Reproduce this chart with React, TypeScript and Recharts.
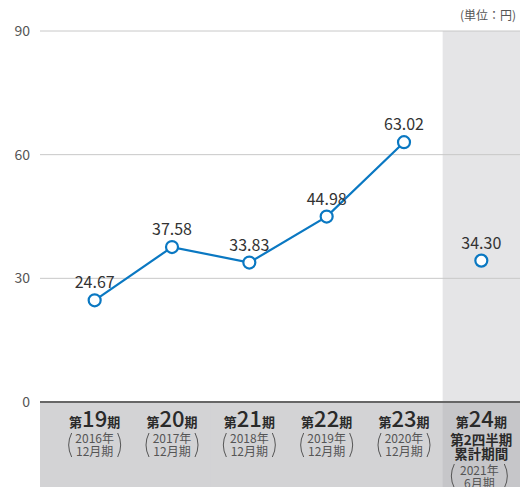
import React from "react"
import {
  ComposedChart,
  Line,
  XAxis,
  YAxis,
  CartesianGrid,
  ReferenceArea,
  LabelList,
} from "recharts"

const periods = ["19", "20", "21", "22", "23", "24"]
const years = ["2016年", "2017年", "2018年", "2019年", "2020年", "2021年"]
const months = ["12月期", "12月期", "12月期", "12月期", "12月期", "6月期"]
const annualEps = [24.67, 37.58, 33.83, 44.98, 63.02, null]
const halfEps = [null, null, null, null, null, 34.3]
const lastSubLines = ["第2四半期", "累計期間"]
const yTicks = [0, 30, 60, 90]

const data = periods.map((p, i) => ({
  period: p,
  annual: annualEps[i],
  half: halfEps[i],
}))

const W = 520
const H = 487
const PAD_LEFT = 16
const Y_AXIS_W = 40
const AXIS_H = 85
const BAND = (W - Y_AXIS_W - PAD_LEFT) / periods.length
const AXIS_Y = H - AXIS_H

const FONT = "'Noto Sans CJK JP', 'Noto Sans', sans-serif"
const BLUE = "#0a78c2"

function Paren({ x, top, bottom, side }: { x: number; top: number; bottom: number; side: number }) {
  const mid = (top + bottom) / 2
  return (
    <path
      d={`M${x} ${top} Q${x + side * 6} ${mid} ${x} ${bottom}`}
      fill="none"
      stroke="#555"
      strokeWidth={1}
    />
  )
}

function PeriodTick(props: any) {
  const { x, payload } = props
  const i = payload.index
  const last = i === periods.length - 1
  // the first band also fills the padding strip next to the y axis
  const left = x - BAND / 2 - (i === 0 ? PAD_LEFT : 0)
  const right = x + BAND / 2 + 1
  return (
    <g fontFamily={FONT}>
      <rect
        x={left}
        y={AXIS_Y + 1}
        width={right - left}
        height={AXIS_H}
        fill={last ? "#c6c6c9" : "#d3d3d5"}
      />
      <text x={x} y={AXIS_Y + 25} textAnchor="middle" fill="#2a2a2a">
        <tspan fontSize={13} fontWeight={700}>第</tspan>
        <tspan fontSize={22} fontWeight={500}>{periods[i]}</tspan>
        <tspan fontSize={13} fontWeight={700}>期</tspan>
      </text>
      {last ? (
        <>
          {lastSubLines.map((s, k) => (
            <text
              key={s}
              x={x}
              y={AXIS_Y + 43 + k * 14}
              textAnchor="middle"
              fontSize={13.5}
              fontWeight={700}
              fill="#2a2a2a"
            >
              {s}
            </text>
          ))}
          <text x={x - 2} y={AXIS_Y + 73} textAnchor="middle" fontSize={12} fill="#555">
            {years[i]}
          </text>
          <text x={x - 2} y={AXIS_Y + 86} textAnchor="middle" fontSize={12} fill="#555">
            {months[i]}
          </text>
          <Paren x={x - 27} top={AXIS_Y + 62} bottom={AXIS_Y + 86} side={-1} />
          <Paren x={x + 23} top={AXIS_Y + 62} bottom={AXIS_Y + 86} side={1} />
        </>
      ) : (
        <>
          <text x={x} y={AXIS_Y + 41} textAnchor="middle" fontSize={12} fill="#555">
            {years[i]}
          </text>
          <text x={x} y={AXIS_Y + 54} textAnchor="middle" fontSize={12} fill="#555">
            {months[i]}
          </text>
          <Paren x={x - 23} top={AXIS_Y + 31} bottom={AXIS_Y + 55} side={-1} />
          <Paren x={x + 23} top={AXIS_Y + 31} bottom={AXIS_Y + 55} side={1} />
        </>
      )}
    </g>
  )
}

const dot = { r: 6, fill: "#fff", stroke: BLUE, strokeWidth: 2.2 }
const fmt = (v: any) => (v == null ? "" : Number(v).toFixed(2))

export default function App() {
  return (
    <div style={{ position: "relative", width: W, height: H, fontFamily: FONT }}>
      <style>{`body{margin:0}`}</style>
      <span
        style={{ position: "absolute", right: 4, top: 6, fontSize: 12, color: "#555" }}
      >
        (単位：円)
      </span>
      <ComposedChart
        width={W}
        height={H}
        data={data}
        margin={{ top: 31, right: 0, bottom: 0, left: 0 }}
      >
        <ReferenceArea
          x1="24"
          x2="24"
          y1={0}
          y2={90}
          fill="#e5e5e7"
          fillOpacity={1}
          stroke="none"
          ifOverflow="visible"
          zIndex={-200}
        />
        <CartesianGrid vertical={false} stroke="#c8c8c8" strokeWidth={1} />
        <XAxis
          dataKey="period"
          scale="band"
          height={AXIS_H}
          padding={{ left: PAD_LEFT, right: 0 }}
          tickLine={false}
          axisLine={{ stroke: "#666", strokeWidth: 2 }}
          tick={<PeriodTick />}
          interval={0}
        />
        <YAxis
          width={Y_AXIS_W}
          domain={[0, 90]}
          ticks={yTicks}
          axisLine={false}
          tickLine={false}
          tick={{ fill: "#555", fontSize: 14, fontFamily: FONT }}
          tickMargin={4}
        />
        <Line
          dataKey="annual"
          stroke={BLUE}
          strokeWidth={2.2}
          dot={dot}
          activeDot={false}
          isAnimationActive={false}
        >
          <LabelList
            dataKey="annual"
            position="top"
            offset={12}
            formatter={fmt}
            style={{ fill: "#333", fontSize: 16, fontFamily: FONT }}
          />
        </Line>
        <Line
          dataKey="half"
          stroke={BLUE}
          strokeWidth={2.2}
          dot={dot}
          activeDot={false}
          isAnimationActive={false}
        >
          <LabelList
            dataKey="half"
            position="top"
            offset={12}
            formatter={fmt}
            style={{ fill: "#333", fontSize: 16, fontFamily: FONT }}
          />
        </Line>
      </ComposedChart>
    </div>
  )
}
